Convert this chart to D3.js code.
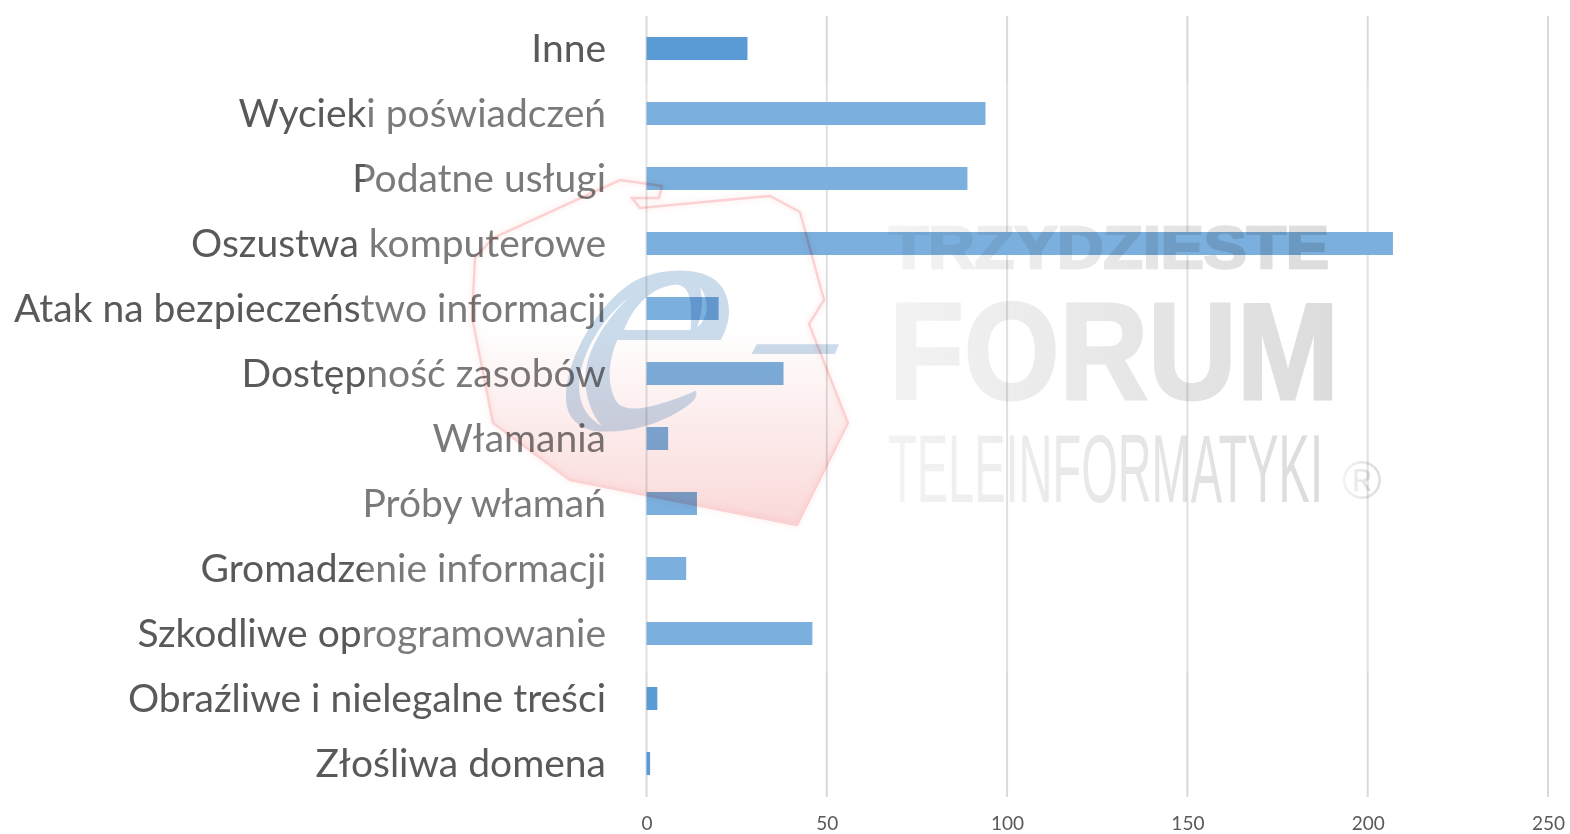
<!DOCTYPE html>
<html><head><meta charset="utf-8">
<script src="https://cdnjs.cloudflare.com/ajax/libs/d3/7.8.5/d3.min.js"></script>
<style>html,body{margin:0;background:#fff}svg{display:block;filter:blur(0.4px)}</style>
</head><body><div id="c"></div>
<script>
const categories=["Inne","Wycieki poświadczeń","Podatne usługi","Oszustwa komputerowe","Atak na bezpieczeństwo informacji","Dostępność zasobów","Włamania","Próby włamań","Gromadzenie informacji","Szkodliwe oprogramowanie","Obraźliwe i nielegalne treści","Złośliwa domena"];
const values=[28,94,89,207,20,38,6,14,11,46,3,1];
const ticks=[0,50,100,150,200,250];
const W=1570,H=834;
const svg=d3.select("#c").append("svg").attr("width",W).attr("height",H);
const x=d3.scaleLinear().domain([0,250]).range([646.5,1548]);
const y=d3.scaleBand().domain(categories).range([16,796]).paddingInner(.646).paddingOuter(.323);
const defs=svg.append("defs");
const g=defs.append("linearGradient").attr("id","pl").attr("x1",0).attr("x2",0).attr("y1",0).attr("y2",1);
g.append("stop").attr("offset",.42).attr("stop-color","#fff");
g.append("stop").attr("offset",1).attr("stop-color","#f8c8c8");
const tg=defs.append("linearGradient").attr("id","tx").attr("x1",0).attr("x2",1).attr("y1",0).attr("y2",0);
tg.append("stop").attr("offset",0).attr("stop-color","#f3f3f3");
tg.append("stop").attr("offset",1).attr("stop-color","#dcdcdc");
defs.append("filter").attr("id","soft").attr("x","-5%").attr("y","-5%").attr("width","110%").attr("height","110%")
 .append("feGaussianBlur").attr("stdDeviation",3);

// chart
svg.append("g").selectAll("line").data(ticks).join("line")
 .attr("x1",d=>x(d)).attr("x2",d=>x(d)).attr("y1",16).attr("y2",797)
 .attr("stroke","#d9d9d9").attr("stroke-width",2);
svg.append("g").selectAll("rect").data(categories).join("rect")
 .attr("x",x(0)).attr("y",d=>y(d)).attr("height",y.bandwidth())
 .attr("width",(d,i)=>x(values[i])-x(0)).attr("fill","#5b9bd5");
const yAxis=svg.append("g").attr("transform",`translate(${x(0)},0)`)
 .call(d3.axisLeft(y).tickSize(0).tickPadding(40.5));
yAxis.select(".domain").remove();
yAxis.selectAll("text").attr("font-size",39).attr("dy","0.35em").attr("fill","#595959").style("font-family","Lato,'Noto Sans',sans-serif");
const xAxis=svg.append("g").attr("transform","translate(0,797)")
 .call(d3.axisBottom(x).tickValues(ticks).tickSize(0).tickPadding(20));
xAxis.select(".domain").remove();
xAxis.selectAll("text").attr("font-size",19).attr("fill","#595959").style("font-family","Lato,'Noto Sans',sans-serif");

// watermark overlaid on the chart
const wm=svg.append("g");
wm.append("rect").attr("x",365).attr("y",82).attr("width",1100).attr("height",590).attr("fill","#fff").attr("opacity",.2);
const poly=[[620,180],[662,186],[659,198],[632,198],[640,208],[770,196],[800,212],[824,300],[809,324],[848,423],[797,525],[570,480],[493,423],[472,317],[475,258],[493,238]];
const polyD=d3.line()(poly)+"Z";
wm.append("path").attr("d",polyD).attr("fill","none").attr("stroke","#fbe4e4").attr("stroke-width",5).attr("stroke-opacity",.5).attr("filter","url(#soft)").style("mix-blend-mode","multiply");
wm.append("path").attr("d",polyD).attr("fill","url(#pl)").attr("fill-opacity",.7).attr("stroke","#fcd8d8").attr("stroke-width",2.5).style("mix-blend-mode","multiply");
const eLogo=wm.append("g").attr("transform","translate(460,170) scale(0.3333)").attr("fill","#2a74b5").attr("fill-opacity",.25).style("mix-blend-mode","multiply");
eLogo.append("path").attr("fill-rule","evenodd").attr("d",
 "M318,680C318,560 420,395 520,335C600,292 725,288 775,338C815,380 818,450 782,510L472,510C445,570 438,650 472,698C512,738 610,702 708,662C714,680 702,698 660,722C580,772 480,792 400,782C340,767 318,730 318,680Z"
 +"M492,480C520,405 580,350 640,345C688,340 698,385 692,480Z"
 +"M505,385C430,440 352,560 358,660C360,710 385,745 425,768C385,720 368,650 380,590C395,510 460,425 505,385Z"
 +"M720,350C748,390 748,440 712,472C728,420 730,390 720,350Z");
eLogo.append("path").attr("d","M890,523L1137,523L1125,552L875,552Z");
const wt=wm.append("g").attr("fill","url(#tx)").attr("stroke","url(#tx)").style("mix-blend-mode","multiply").attr("text-anchor","start");
const wfont="'Liberation Sans',Arial,sans-serif";
wt.append("text").attr("x",889).attr("y",268).attr("font-size",60).attr("font-weight",700).attr("stroke-width",2.5).attr("textLength",440).attr("lengthAdjust","spacingAndGlyphs").style("font-family",wfont).text("TRZYDZIESTE");
wt.append("text").attr("x",889).attr("y",399).attr("font-size",137).attr("font-weight",700).attr("stroke-width",3).attr("textLength",450).attr("lengthAdjust","spacingAndGlyphs").style("font-family",wfont).text("FORUM");
wt.append("text").attr("x",888).attr("y",502).attr("font-size",97).attr("stroke-width",0).attr("textLength",435).attr("lengthAdjust","spacingAndGlyphs").style("font-family",wfont).text("TELEINFORMATYKI");
wt.append("text").attr("x",1342).attr("y",499).attr("font-size",54).attr("stroke-width",0).style("font-family",wfont).text("®");
</script></body></html>
